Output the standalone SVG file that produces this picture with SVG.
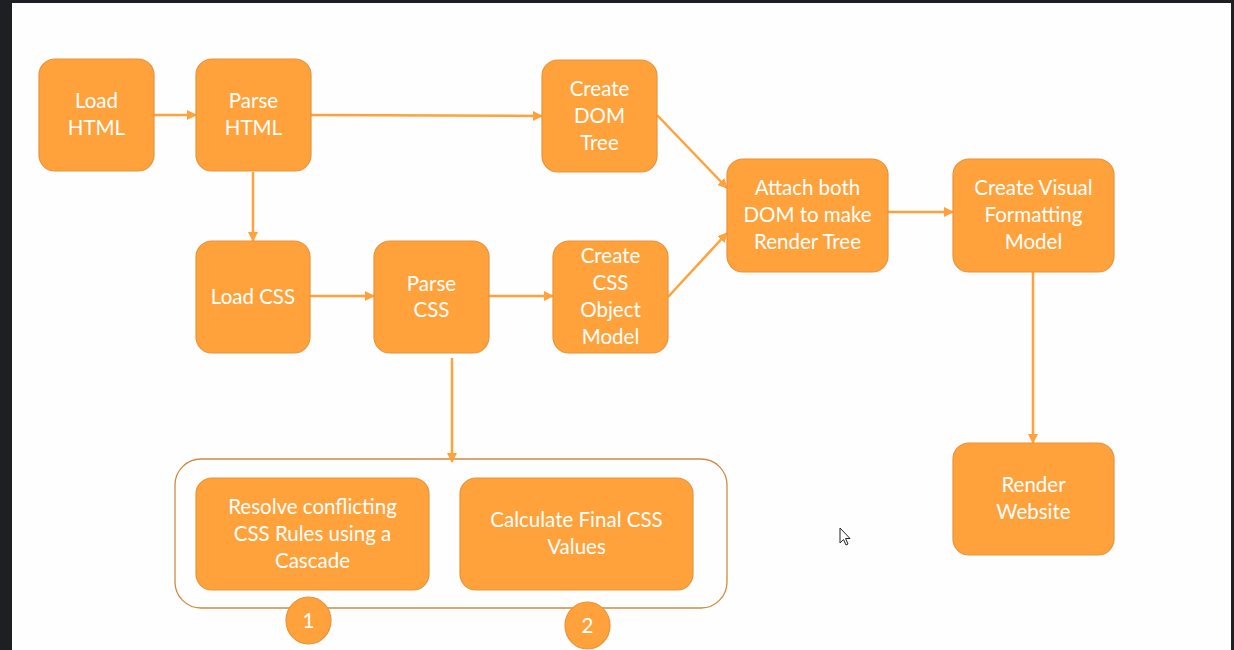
<svg xmlns="http://www.w3.org/2000/svg" width="1234" height="650" viewBox="0 0 1234 650">
<defs>
<style>
.node{fill:#FFA23B;stroke:#E8933A;stroke-width:1.2}
.t{font-family:Lato,"Open Sans","Liberation Sans",sans-serif;font-size:20.5px;fill:#FFFFFF;text-anchor:middle}
.c{fill:none;stroke:#FFA23B;stroke-width:2.5}
</style>
<marker id="ah" viewBox="0 0 10 10" refX="9" refY="5" markerWidth="4" markerHeight="4" orient="auto" markerUnits="strokeWidth">
<path d="M0,0 L10,5 L0,10 z" fill="#FFA23B"/>
</marker>
</defs>
<rect x="0" y="0" width="1234" height="650" fill="#1E1F22"/>
<rect x="12" y="3" width="1219" height="647" fill="#FEFEFE"/>

<g id="container">
<rect x="175" y="459" width="552" height="149" rx="26" fill="none" stroke="#D08A40" stroke-width="1.3"/>
</g>

<g id="connectors">
<line class="c" x1="154" y1="115" x2="196" y2="115" marker-end="url(#ah)"/>
<line class="c" x1="311" y1="115" x2="542" y2="116" marker-end="url(#ah)"/>
<line class="c" x1="253" y1="172" x2="253" y2="241" marker-end="url(#ah)"/>
<line class="c" x1="310" y1="296" x2="374" y2="296" marker-end="url(#ah)"/>
<line class="c" x1="489" y1="296" x2="553" y2="296" marker-end="url(#ah)"/>
<line class="c" x1="452" y1="358" x2="452" y2="462" marker-end="url(#ah)"/>
<line class="c" x1="657" y1="115" x2="727" y2="188" marker-end="url(#ah)"/>
<line class="c" x1="668" y1="297" x2="727" y2="233" marker-end="url(#ah)"/>
<line class="c" x1="888" y1="212" x2="953" y2="212" marker-end="url(#ah)"/>
<line class="c" x1="1033" y1="272" x2="1033" y2="443" marker-end="url(#ah)"/>
</g>

<g id="load-html">
<rect class="node" x="39" y="59" width="115" height="112" rx="16"/>
<text class="t" x="96.5" y="108">Load</text>
<text class="t" x="96.5" y="135">HTML</text>
</g>
<g id="parse-html">
<rect class="node" x="196" y="59" width="115" height="112" rx="16"/>
<text class="t" x="253.5" y="108">Parse</text>
<text class="t" x="253.5" y="135">HTML</text>
</g>
<g id="create-dom">
<rect class="node" x="542" y="60" width="115" height="112" rx="16"/>
<text class="t" x="599.5" y="96">Create</text>
<text class="t" x="599.5" y="123">DOM</text>
<text class="t" x="599.5" y="150">Tree</text>
</g>
<g id="attach">
<rect class="node" x="727" y="159" width="161" height="113" rx="16"/>
<text class="t" x="807.5" y="195">Attach both</text>
<text class="t" x="807.5" y="222">DOM to make</text>
<text class="t" x="807.5" y="249">Render Tree</text>
</g>
<g id="create-visual">
<rect class="node" x="953" y="159" width="161" height="113" rx="16"/>
<text class="t" x="1033.5" y="195">Create Visual</text>
<text class="t" x="1033.5" y="222">Formatting</text>
<text class="t" x="1033.5" y="249">Model</text>
</g>
<g id="load-css">
<rect class="node" x="196" y="241" width="114" height="112" rx="16"/>
<text class="t" x="253" y="304">Load CSS</text>
</g>
<g id="parse-css">
<rect class="node" x="374" y="241" width="115" height="112" rx="16"/>
<text class="t" x="431.5" y="291">Parse</text>
<text class="t" x="431.5" y="317">CSS</text>
</g>
<g id="create-cssom">
<rect class="node" x="553" y="241" width="115" height="112" rx="16"/>
<text class="t" x="610.5" y="263">Create</text>
<text class="t" x="610.5" y="290">CSS</text>
<text class="t" x="610.5" y="317">Object</text>
<text class="t" x="610.5" y="344">Model</text>
</g>
<g id="render-website">
<rect class="node" x="953" y="443" width="161" height="112" rx="16"/>
<text class="t" x="1033.5" y="492">Render</text>
<text class="t" x="1033.5" y="519">Website</text>
</g>
<g id="resolve">
<rect class="node" x="196" y="478" width="233" height="112" rx="16"/>
<text class="t" x="312.5" y="514">Resolve conflicting</text>
<text class="t" x="312.5" y="541">CSS Rules using a</text>
<text class="t" x="312.5" y="568">Cascade</text>
</g>
<g id="calculate">
<rect class="node" x="460" y="478" width="233" height="112" rx="16"/>
<text class="t" x="576.5" y="527">Calculate Final CSS</text>
<text class="t" x="576.5" y="554">Values</text>
</g>
<g id="step-1">
<ellipse class="node" cx="308.5" cy="620.5" rx="22.5" ry="23.5"/>
<text class="t" x="308.5" y="627.5">1</text>
</g>
<g id="step-2">
<ellipse class="node" cx="587.5" cy="625.5" rx="22.5" ry="23.5"/>
<text class="t" x="587.5" y="632.5">2</text>
</g>

<path d="M840,528 L840,543 L843.5,539.5 L846,545 L848,544 L845.5,538.5 L850,538.5 Z" fill="#FFFFFF" stroke="#222222" stroke-width="1"/>
</svg>
